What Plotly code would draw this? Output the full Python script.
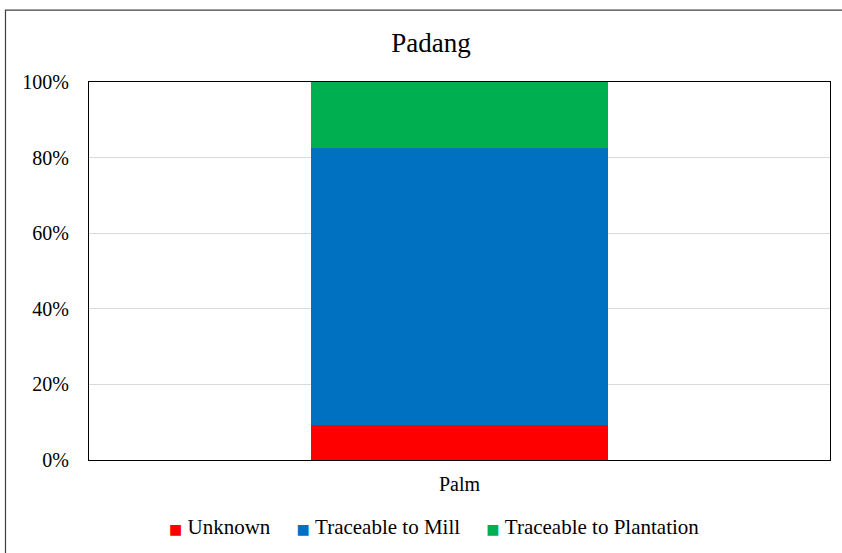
import plotly.graph_objects as go

categories = ["Palm"]
series_names = ["Unknown", "Traceable to Mill", "Traceable to Plantation"]
unknown = [0.092]
mill = [0.733]
plantation = [0.175]
colors = ["#FF0000", "#0070C0", "#00B050"]
y_ticks = [0, 0.2, 0.4, 0.6, 0.8, 1.0]
y_tick_labels = ["0%", "20%", "40%", "60%", "80%", "100%"]

W, H = 842, 553
L, R, T, B = 89, 12, 81.5, 93
pw = W - L - R
ph = H - T - B

font = "Liberation Serif"

fig = go.Figure()
for name, vals, c in zip(series_names, [unknown, mill, plantation], colors):
    fig.add_trace(go.Bar(x=categories, y=vals, name=name, marker=dict(color=c, line=dict(width=0)),
                         showlegend=False, hoverinfo="skip"))

fig.update_layout(
    width=W, height=H,
    barmode="stack", bargap=0.6,
    margin=dict(l=L, r=R, t=T, b=B),
    paper_bgcolor="white", plot_bgcolor="white",
    font=dict(family=font, size=20, color="black"),
    title=dict(text="Padang", x=(431 - L) / pw, xref="paper", xanchor="center",
               y=1 - 43 / H, yanchor="middle", font=dict(size=27, family=font, color="black")),
    xaxis=dict(showline=True, linecolor="black", linewidth=1, mirror=True,
               ticks="", tickfont=dict(size=20, family=font, color="black"), ticklabelstandoff=6),
    yaxis=dict(range=[0, 1], tickvals=y_ticks, ticktext=y_tick_labels,
               showline=True, linecolor="black", linewidth=1, mirror=True,
               showgrid=True, gridcolor="#D9D9D9", gridwidth=1,
               ticks="", tickfont=dict(size=20, family=font, color="black"),
               ticklabelstandoff=15, zeroline=False),
)

# legend drawn as text, built from the series names and colours
sq = "<span style='font-family:DejaVu Sans;font-size:14px;color:{c}'>■</span>"
parts = [sq.format(c=c) + "&nbsp;" + n for n, c in zip(series_names, colors)]
legend_text = ("&nbsp;" * 5).join(parts)
fig.add_annotation(text=legend_text, xref="paper", yref="paper",
                   x=(434 - L) / pw, y=(H - B - 527) / ph, xanchor="center", yanchor="middle",
                   showarrow=False, font=dict(size=21, family=font, color="black"))

# outer chart border
fig.add_shape(type="rect", xref="paper", yref="paper",
              x0=(5.5 - L) / pw, x1=(W + 5 - L) / pw,
              y0=(H - B - (H + 5)) / ph, y1=(H - B - 9.5) / ph,
              line=dict(color="#404040", width=1.2), fillcolor="rgba(0,0,0,0)", layer="below")

fig.write_html("out.html", config={"displayModeBar": False},
               post_script="document.body.style.margin='0';document.body.style.overflow='hidden';")
